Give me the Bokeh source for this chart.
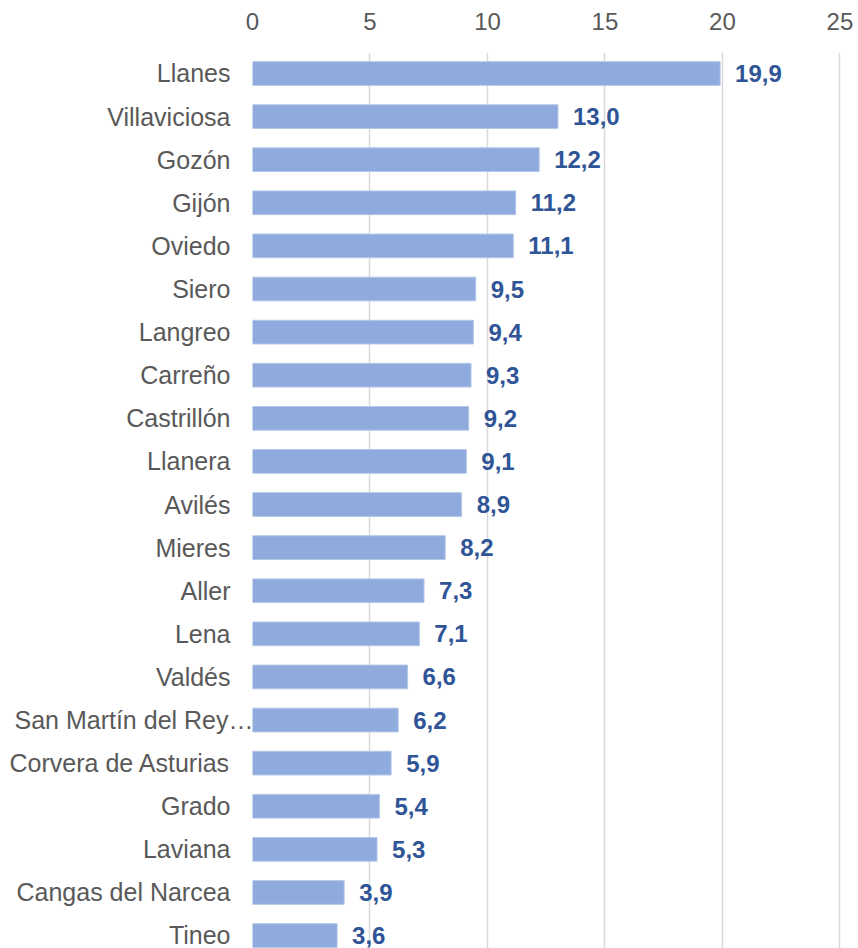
from bokeh.plotting import figure
from bokeh.models import Range1d, FixedTicker, ColumnDataSource, LinearAxis
from bokeh.embed import file_html
from bokeh.resources import INLINE
from bokeh.core.properties import value

municipios = ["Llanes", "Villaviciosa", "Gozón", "Gijón", "Oviedo", "Siero", "Langreo",
              "Carreño", "Castrillón", "Llanera", "Avilés", "Mieres", "Aller", "Lena",
              "Valdés", "San Martín del Rey…", "Corvera de Asturias", "Grado", "Laviana",
              "Cangas del Narcea", "Tineo"]
valores = [19.9, 13.0, 12.2, 11.2, 11.1, 9.5, 9.4, 9.3, 9.2, 9.1, 8.9, 8.2, 7.3, 7.1,
           6.6, 6.2, 5.9, 5.4, 5.3, 3.9, 3.6]
x_ticks = [0, 5, 10, 15, 20, 25]
etiqueta_larga = "San Martín del Rey…"

FONT = "Liberation Sans"
BAR = "#8FAADC"
LBL = "#2F5597"
GRAY = "#595959"

idx = list(range(len(municipios)))
etiquetas = [f"{v:.1f}".replace(".", ",") for v in valores]
src = ColumnDataSource(dict(y=idx, v=valores, lab=etiquetas))

p = figure(width=858, height=948, output_backend="svg", toolbar_location=None,
           x_range=Range1d(0, 25.79), y_range=Range1d(20.30, -0.487),
           x_axis_location="above", min_border_left=252, min_border_right=0,
           min_border_top=52, min_border_bottom=0)
p.outline_line_color = None
p.background_fill_color = "white"
p.border_fill_color = "white"

p.hbar(y="y", right="v", left=0, height=0.55, source=src, fill_color=BAR,
       line_color="#B4C7E7", line_width=1)
p.text(x="v", y="y", text="lab", source=src, x_offset=15, text_align="left",
       text_baseline="middle", text_font=value(FONT), text_font_style="bold",
       text_font_size="24px", text_color=LBL)

xa = p.xaxis[0]
xa.ticker = FixedTicker(ticks=x_ticks)
xa.axis_line_color = None
xa.major_tick_line_color = None
xa.minor_tick_line_color = None
xa.major_tick_out = 0
xa.major_tick_in = 0
xa.major_label_text_font = FONT
xa.major_label_text_font_size = "24px"
xa.major_label_text_color = GRAY
xa.major_label_standoff = 23


def style_y(ax):
    ax.axis_line_color = None
    ax.major_tick_line_color = None
    ax.minor_tick_line_color = None
    ax.major_tick_out = 0
    ax.major_tick_in = 0
    ax.major_label_text_font = FONT
    ax.major_label_text_font_size = "25px"
    ax.major_label_text_color = GRAY


ya = p.yaxis[0]
ya.ticker = FixedTicker(ticks=idx)
ya.major_label_overrides = {i: ("" if m == etiqueta_larga else m) for i, m in enumerate(municipios)}
style_y(ya)
ya.major_label_standoff = 22

# the truncated long label overflows into the plot area, as in the original
k = municipios.index(etiqueta_larga)
ya2 = LinearAxis(ticker=FixedTicker(ticks=[k]), major_label_overrides={k: etiqueta_larga})
style_y(ya2)
ya2.major_label_standoff = -247
p.add_layout(ya2, "left")

p.xgrid.grid_line_color = "#D9D9D9"
p.xgrid.grid_line_width = 1.5
p.xgrid.ticker = FixedTicker(ticks=x_ticks)
p.ygrid.grid_line_color = None

open("out.html", "w").write(file_html(p, INLINE))
